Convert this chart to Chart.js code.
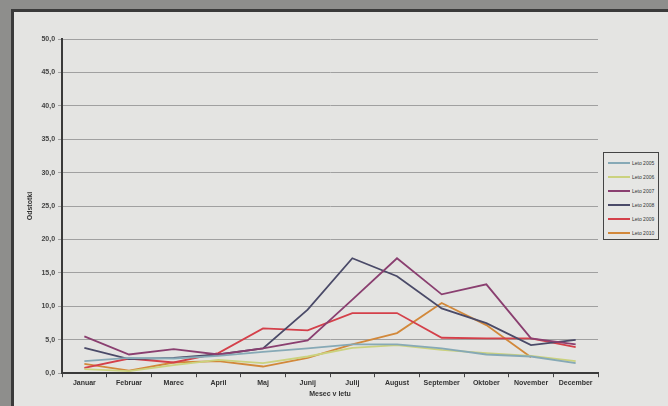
<!DOCTYPE html>
<html>
<head>
<meta charset="utf-8">
<script src="https://cdn.jsdelivr.net/npm/chart.js@4.4.1/dist/chart.umd.min.js"></script>
<style>
  html, body { margin: 0; padding: 0; }
  body { width: 668px; height: 406px; background: #8e8e8c; overflow: hidden; position: relative; font-family: "Liberation Sans", Arial, sans-serif; }
  #frame { position: absolute; left: 11px; top: 9px; width: 670px; height: 410px; border: 3px solid #3a3a3a; background: #e4e4e2; box-sizing: border-box; }
  #wrap { position: absolute; left: 0; top: 0; width: 668px; height: 406px; }
  #legend { position: absolute; left: 603px; top: 152px; width: 56px; height: 88px; border: 1px solid #444; background: #e6e6e4; box-sizing: border-box; padding: 3px 0 0 4px; }
  .row { height: 14px; display: flex; align-items: center; font-size: 5px; color: #333; }
  .row span.ln { display: inline-block; width: 22px; height: 2px; margin-right: 2px; }
</style>
</head>
<body>
<div id="frame"></div>
<div id="wrap"><canvas id="chart" width="668" height="406"></canvas></div>
<div id="legend"></div>
<script>
// mesci in vrednosti (odstotki), odčitano s slike
const months = ['Januar', 'Februar', 'Marec', 'April', 'Maj', 'Junij', 'Julij', 'August', 'September', 'Oktober', 'November', 'December'];
const seriesNames = ['Leto 2005', 'Leto 2006', 'Leto 2007', 'Leto 2008', 'Leto 2009', 'Leto 2010'];
const leto2005 = [1.8, 2.3, 2.2, 2.6, 3.2, 3.7, 4.3, 4.3, 3.7, 2.8, 2.5, 1.5];
const leto2006 = [0.6, 0.3, 1.2, 2.0, 1.5, 2.5, 3.8, 4.2, 3.5, 3.0, 2.6, 1.8];
const leto2007 = [5.5, 2.8, 3.6, 2.8, 3.7, 4.9, 11.0, 17.2, 11.8, 13.3, 5.2, 4.3];
const leto2008 = [3.8, 2.1, 2.3, 2.8, 3.7, 9.5, 17.2, 14.5, 9.7, 7.5, 4.2, 5.0];
const leto2009 = [0.8, 2.2, 1.6, 3.0, 6.7, 6.4, 9.0, 9.0, 5.3, 5.2, 5.2, 3.9];
const leto2010 = [1.4, 0.4, 1.6, 1.8, 1.0, 2.3, 4.3, 6.0, 10.5, 7.2, 2.4, null];
const yTicks = [0, 5, 10, 15, 20, 25, 30, 35, 40, 45, 50];

const colors = ['#86a9b6', '#cbd27e', '#8a3f70', '#4a4a68', '#d4404a', '#d2883a'];
const allData = [leto2005, leto2006, leto2007, leto2008, leto2009, leto2010];

// legenda
const legend = document.getElementById('legend');
seriesNames.forEach((name, i) => {
  const row = document.createElement('div');
  row.className = 'row';
  row.innerHTML = `<span class="ln" style="background:${colors[i]}"></span><span>${name}</span>`;
  legend.appendChild(row);
});

const ctx = document.getElementById('chart').getContext('2d');
new Chart(ctx, {
  type: 'line',
  data: {
    labels: months,
    datasets: seriesNames.map((name, i) => ({
      label: name,
      data: allData[i],
      borderColor: colors[i],
      backgroundColor: colors[i],
      borderWidth: 1.8,
      pointRadius: 0,
      tension: 0,
      spanGaps: false
    }))
  },
  options: {
    responsive: false,
    animation: false,
    layout: { padding: { left: 26, right: 70, top: 39, bottom: 8 } },
    plugins: {
      legend: { display: false },
      tooltip: { enabled: false }
    },
    scales: {
      x: {
        offset: true,
        grid: { offset: true, drawOnChartArea: false, drawTicks: true, tickLength: 4, color: '#444' },
        border: { color: '#3a3a3a', width: 2 },
        ticks: { color: '#333', font: { family: 'Liberation Sans', size: 7, weight: 'bold' }, maxRotation: 0, autoSkip: false, padding: 2 },
        title: { display: true, text: 'Mesec v letu', color: '#333', font: { family: 'Liberation Sans', size: 7, weight: 'bold' }, padding: { top: 0, bottom: 0 } }
      },
      y: {
        min: 0,
        max: 50,
        afterBuildTicks: axis => { axis.ticks = yTicks.map(v => ({ value: v })); },
        grid: { color: '#a0a0a0', lineWidth: 1, tickLength: 4 },
        border: { color: '#3a3a3a', width: 2 },
        ticks: {
          color: '#444',
          font: { family: 'Liberation Sans', size: 7, weight: 'bold' },
          padding: 3,
          callback: v => v.toFixed(1).replace('.', ',')
        },
        title: { display: true, text: 'Odstotki', color: '#333', font: { family: 'Liberation Sans', size: 7, weight: 'bold' }, padding: { top: 0, bottom: 4 } }
      }
    }
  }
});
</script>
</body>
</html>
